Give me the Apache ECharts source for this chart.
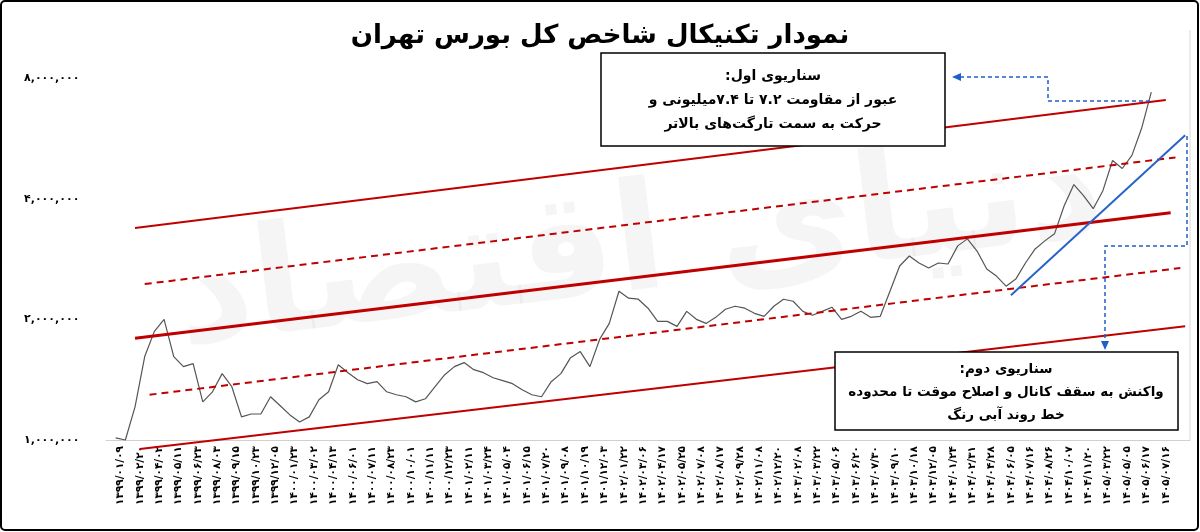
<!DOCTYPE html>
<html><head><meta charset="utf-8">
<script src="https://cdn.jsdelivr.net/npm/echarts@6/dist/echarts.min.js"></script>
<style>html,body{margin:0;padding:0;background:#fff}#c{width:1200px;height:532px}</style>
</head><body><div id="c"></div>
<script>
// Date tick labels (Latin digits, converted to Persian for display)
const dateLabels = ['1399/01/09','1399/02/20','1399/04/02','1399/05/11','1399/06/23','1399/08/03','1399/09/15','1399/10/23','1399/12/05','1400/01/23','1400/03/02','1400/04/13','1400/06/01','1400/07/11','1400/08/23','1400/10/01','1400/11/11','1400/12/23','1401/02/11','1401/03/24','1401/05/04','1401/06/15','1401/07/20','1401/09/08','1401/10/19','1401/12/03','1402/01/22','1402/03/06','1402/04/17','1402/05/25','1402/07/08','1402/08/17','1402/09/28','1402/11/08','1402/12/20','1403/02/08','1403/03/22','1403/05/06','1403/06/20','1403/07/30','1403/09/10','1403/10/18','1403/12/05','1404/01/24','1404/02/31','1404/04/28','1404/06/05','1404/07/16','1404/08/26','1404/10/07','1404/11/20','1405/03/22','1405/05/05','1405/06/17','1405/07/16'];
const yTicks = [1000000, 2000000, 4000000, 8000000];
// index value (thousands), one point every 2 trading-day slots
const indexValues = [1012,1000,1210,1615,1866,2000,1615,1524,1551,1245,1319,1464,1358,1142,1161,1161,1282,1217,1155,1109,1142,1260,1319,1541,1472,1414,1382,1398,1319,1297,1282,1245,1267,1358,1455,1524,1560,1498,1472,1430,1406,1382,1335,1297,1282,1398,1464,1605,1662,1524,1782,1954,2350,2258,2245,2132,1977,1977,1921,2094,2000,1954,2023,2119,2156,2132,2070,2035,2156,2245,2219,2094,2047,2094,2144,2000,2035,2094,2023,2035,2350,2717,2878,2764,2685,2764,2748,3050,3175,2961,2670,2564,2420,2520,2764,2997,3139,3268,3842,4337,4070,3776,4188,4982,4757,5128,5993,7378];
// channel lines: [startSlot, startValue(M), endSlot, endValue(M)]
const channelTopSolid = [6, 3.382, 219, 7.05];
const channelTopDashed = [8, 2.449, 221, 5.07];
const channelMidSolid = [6, 1.793, 220, 3.69];
const channelLowDashed = [9, 1.297, 222, 2.685];
const channelLowSolid = [7, 0.949, 223, 1.921];
const blueTrend = [187, 2.297, 223, 5.756];

const fa = s => String(s).replace(/[0-9]/g, d => '۰۱۲۳۴۵۶۷۸۹'[d]);
const L = v => Math.log2(v / 1e6);
const lbl = new Map(dateLabels.map((d, i) => [3 + 4 * i, d]));
const gray = indexValues.map((v, i) => [2 + 2 * i, L(v * 1000)]);
const seg = (a) => [[a[0], L(a[1] * 1e6)], [a[2], L(a[3] * 1e6)]];
const F = 'DejaVu Sans';
const R = '\u200f';
const chart = echarts.init(document.getElementById('c'));
const red = '#c00000';
const lineS = (d, color, w, type) => ({type:'line', data:seg(d), symbol:'none', clip:false, silent:true,
  lineStyle:{color, width:w, type}, z:3});
chart.setOption({
  animation:false,
  grid:{left:106, right:10, top:78, bottom:92},
  xAxis:{type:'value', min:0, max:224,
    axisLine:{show:true, lineStyle:{color:'#d0d0d0'}}, axisTick:{show:false}, splitLine:{show:false},
    axisLabel:{customValues:[...lbl.keys()], rotate:90, fontFamily:F, fontWeight:'bold', fontSize:10.5, color:'#000', margin:6,
      formatter:v => fa(lbl.get(Math.round(v)) || '')}},
  yAxis:{type:'value', min:0, max:3, interval:1,
    axisLine:{show:false}, axisTick:{show:false}, splitLine:{show:false},
    axisLabel:{fontFamily:F, fontWeight:'bold', fontSize:11, color:'#000', align:'left', margin:82,
      formatter:v => fa(Math.round(1e6 * Math.pow(2, v)).toLocaleString('en-US'))}},
  graphic:[
    {type:'rect', shape:{x:1, y:1, width:1197, height:529, r:4}, style:{fill:'none', stroke:'#000', lineWidth:2}, z:0},
    {type:'line', shape:{x1:1190, y1:30, x2:1190, y2:440}, style:{stroke:'#d8d8d8', lineWidth:1}},
    {type:'text', x:600, y:36, style:{text:'نمودار تکنیکال شاخص کل بورس تهران', font:'bold 26px "DejaVu Sans"', fill:'#000', align:'center', verticalAlign:'middle'}},
    {type:'text', x:640, y:250, rotation:0.12, style:{text:'دنیای اقتصاد', font:'bold 150px "DejaVu Sans"', fill:'rgba(0,0,0,0.04)', align:'center', verticalAlign:'middle'}, z:0},
    {type:'rect', shape:{x:601, y:53, width:344, height:93}, style:{fill:'#fff', stroke:'#000', lineWidth:1.5}, z:10},
    {type:'text', x:773, y:100, style:{text:R+'سناریوی اول:'+R+'\n'+R+'عبور از مقاومت ۷.۲ تا ۷.۴میلیونی و'+R+'\n'+R+'حرکت به سمت تارگت‌های بالاتر'+R, font:'bold 14px "DejaVu Sans"', lineHeight:24, fill:'#000', align:'center', verticalAlign:'middle'}, z:11},
    {type:'rect', shape:{x:835, y:352, width:343, height:78}, style:{fill:'#fff', stroke:'#000', lineWidth:1.5}, z:10},
    {type:'text', x:1006, y:392, style:{text:R+'سناریوی دوم:'+R+'\n'+R+'واکنش به سقف کانال و اصلاح موقت تا محدوده'+R+'\n'+R+'خط روند آبی رنگ'+R, font:'bold 13.5px "DejaVu Sans"', lineHeight:23, fill:'#000', align:'center', verticalAlign:'middle'}, z:11},
    {type:'polyline', shape:{points:[[1150,101],[1048,101],[1048,77],[960,77]]}, style:{stroke:'#1f5fc8', lineWidth:1.5, lineDash:[4,3], fill:'none'}, z:12},
    {type:'polygon', shape:{points:[[952,77],[961,73],[961,81]]}, style:{fill:'#1f5fc8'}, z:12},
    {type:'polyline', shape:{points:[[1187,136],[1187,246],[1105,246],[1105,342]]}, style:{stroke:'#1f5fc8', lineWidth:1.5, lineDash:[4,3], fill:'none'}, z:12},
    {type:'polygon', shape:{points:[[1105,350],[1101,341],[1109,341]]}, style:{fill:'#1f5fc8'}, z:12}
  ],
  series:[
    {type:'line', data:gray, symbol:'none', clip:false, lineStyle:{color:'#555', width:1.2}, z:2},
    lineS(channelTopSolid, red, 2, 'solid'),
    lineS(channelTopDashed, red, 2, [7,5]),
    lineS(channelMidSolid, red, 3, 'solid'),
    lineS(channelLowDashed, red, 2, [7,5]),
    lineS(channelLowSolid, red, 2, 'solid'),
    lineS(blueTrend, '#2864c8', 2, 'solid')
  ]
});
</script></body></html>
